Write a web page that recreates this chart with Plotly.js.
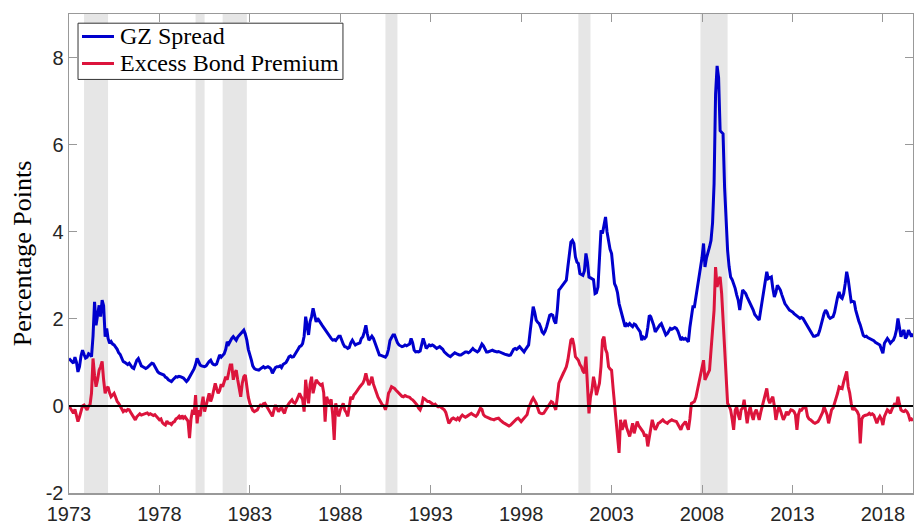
<!DOCTYPE html>
<html>
<head>
<meta charset="utf-8">
<script src="https://cdn.plot.ly/plotly-3.0.1.min.js"></script>
<style>html,body{margin:0;padding:0;background:#fff;}#chart{width:914px;height:525px;}</style>
</head>
<body>
<div id="chart"></div>
<script>
// Monthly data, Jan 1973 - Sep 2019
const startYear = 1973;
const gzSpread = [
1.09,1.05,1.00,0.98,1.12,1.00,0.78,0.90,1.15,1.28,1.18,1.10,
1.12,1.20,1.18,1.13,1.60,2.39,1.85,2.10,2.31,2.05,2.43,2.30,
1.59,1.78,1.55,1.44,1.48,1.42,1.40,1.35,1.30,1.22,1.18,1.10,
1.02,1.00,0.98,0.95,0.98,0.92,0.88,0.86,0.95,1.05,1.09,0.98,
0.92,0.90,0.88,0.86,0.88,0.92,0.96,0.98,0.97,0.90,0.82,0.78,
0.75,0.73,0.72,0.71,0.66,0.64,0.60,0.57,0.56,0.60,0.64,0.67,
0.66,0.68,0.67,0.65,0.64,0.60,0.56,0.60,0.66,0.72,0.79,0.85,
0.95,1.09,1.02,0.94,0.92,0.90,0.90,0.92,0.98,1.02,1.05,0.98,
0.95,0.94,0.96,1.10,1.17,1.12,1.15,1.20,1.30,1.47,1.42,1.50,
1.55,1.59,1.55,1.51,1.58,1.62,1.66,1.70,1.74,1.65,1.51,1.30,
1.20,1.05,0.92,0.86,0.84,0.82,0.82,0.85,0.88,0.90,0.87,0.88,
0.90,0.88,0.85,0.75,0.82,0.88,0.90,0.90,0.92,0.88,0.95,0.98,
1.00,1.06,1.13,1.15,1.12,1.13,1.18,1.22,1.30,1.36,1.38,1.43,
1.60,2.05,1.80,1.63,1.93,2.05,2.24,2.05,1.93,2.01,1.95,1.88,
1.85,1.80,1.75,1.70,1.66,1.60,1.55,1.51,1.52,1.50,1.55,1.60,
1.60,1.50,1.42,1.36,1.35,1.32,1.34,1.45,1.51,1.45,1.40,1.42,
1.43,1.45,1.55,1.59,1.70,1.85,1.65,1.51,1.55,1.60,1.55,1.45,
1.40,1.28,1.17,1.16,1.15,1.13,1.12,1.17,1.30,1.50,1.59,1.63,
1.63,1.52,1.45,1.40,1.38,1.36,1.37,1.40,1.38,1.40,1.42,1.55,
1.45,1.28,1.24,1.25,1.24,1.26,1.40,1.55,1.44,1.32,1.36,1.40,
1.38,1.40,1.38,1.35,1.32,1.34,1.36,1.33,1.30,1.24,1.20,1.18,
1.15,1.13,1.16,1.20,1.22,1.20,1.18,1.17,1.17,1.20,1.23,1.24,
1.24,1.22,1.24,1.28,1.32,1.28,1.25,1.24,1.27,1.33,1.42,1.38,
1.30,1.24,1.24,1.26,1.27,1.28,1.26,1.25,1.24,1.25,1.23,1.22,
1.21,1.19,1.18,1.17,1.16,1.17,1.22,1.30,1.32,1.30,1.33,1.36,
1.32,1.28,1.24,1.30,1.36,1.40,1.70,2.05,2.28,2.15,1.97,1.92,
1.89,1.80,1.70,1.66,1.72,1.82,1.95,2.08,2.10,2.08,1.95,1.89,
2.20,2.66,2.70,2.75,2.81,2.85,2.89,3.19,3.45,3.76,3.80,3.73,
3.42,3.30,3.27,3.04,3.02,3.00,3.10,3.50,3.30,2.96,2.94,2.92,
2.90,2.58,2.60,2.73,3.40,4.03,3.96,4.15,4.34,4.00,3.80,3.60,
3.50,3.10,2.81,2.73,2.60,2.35,2.20,2.05,1.95,1.82,1.88,1.85,
1.89,1.85,1.82,1.88,1.86,1.80,1.74,1.70,1.51,1.58,1.55,1.59,
1.80,2.08,2.05,1.97,1.85,1.70,1.75,1.82,1.86,1.89,1.80,1.70,
1.63,1.66,1.72,1.78,1.76,1.78,1.80,1.78,1.72,1.62,1.51,1.56,
1.53,1.55,1.50,1.47,1.80,2.12,2.28,2.28,2.50,2.81,3.00,3.19,
3.40,3.73,3.19,3.40,3.50,3.65,3.80,4.20,5.10,7.16,7.81,7.54,
6.32,6.28,6.25,5.02,4.20,3.57,3.20,2.96,2.90,2.81,2.70,2.55,
2.43,2.20,2.40,2.66,2.62,2.58,2.50,2.43,2.35,2.28,2.20,2.10,
2.05,2.00,1.97,2.20,2.40,2.66,2.90,3.08,2.92,2.95,2.96,2.70,
2.50,2.60,2.77,2.72,2.66,2.55,2.43,2.35,2.30,2.24,2.20,2.18,
2.16,2.12,2.10,2.08,2.04,2.01,2.03,2.01,1.95,1.86,1.80,1.74,
1.70,1.65,1.60,1.60,1.62,1.63,1.72,1.86,1.98,2.12,2.20,2.15,
2.05,2.01,2.03,2.05,2.15,2.35,2.50,2.62,2.50,2.47,2.58,2.80,
3.08,2.90,2.66,2.39,2.40,2.39,2.20,2.05,1.95,1.86,1.72,1.62,
1.59,1.60,1.57,1.55,1.53,1.51,1.50,1.46,1.44,1.42,1.40,1.30,
1.21,1.44,1.50,1.55,1.50,1.44,1.48,1.51,1.60,1.74,2.01,1.75,
1.59,1.70,1.74,1.55,1.60,1.74,1.65,1.59,1.66
];
const excessBondPremium = [
0.00,-0.05,-0.12,-0.17,-0.08,-0.20,-0.36,-0.25,-0.09,0.00,0.02,-0.05,
-0.09,0.00,0.02,0.30,1.09,0.70,0.44,0.60,0.82,0.90,1.02,0.60,
0.29,0.40,0.44,0.30,0.21,0.25,0.29,0.20,0.10,0.06,0.00,-0.08,
-0.13,-0.10,-0.12,-0.08,-0.09,-0.15,-0.20,-0.28,-0.32,-0.25,-0.21,-0.18,
-0.21,-0.19,-0.18,-0.17,-0.16,-0.20,-0.18,-0.21,-0.22,-0.20,-0.25,-0.28,
-0.32,-0.30,-0.38,-0.42,-0.44,-0.35,-0.40,-0.40,-0.43,-0.38,-0.36,-0.30,
-0.28,-0.24,-0.30,-0.22,-0.28,-0.25,-0.30,-0.35,-0.74,-0.30,-0.09,-0.20,
0.25,-0.40,-0.10,-0.24,0.00,0.21,-0.13,0.05,0.15,0.29,0.10,0.20,
0.35,0.52,0.40,0.29,0.35,0.50,0.44,0.55,0.67,0.60,0.80,0.94,
0.94,0.60,0.75,0.82,0.60,0.40,0.21,0.52,0.67,0.71,0.44,0.20,
0.06,-0.05,-0.10,-0.13,-0.10,-0.09,-0.02,0.02,0.00,0.05,0.06,0.00,
-0.05,-0.13,-0.18,-0.24,-0.10,0.02,-0.05,-0.13,-0.08,-0.02,-0.12,-0.17,
-0.05,0.02,0.06,0.10,0.14,0.08,0.06,0.12,0.20,0.29,0.21,0.15,
-0.13,0.60,0.30,0.06,0.50,0.67,0.29,0.45,0.60,0.55,0.52,0.48,
0.50,0.30,-0.36,0.21,0.10,0.06,0.15,-0.20,-0.78,0.06,-0.10,-0.24,
-0.10,0.00,0.06,-0.10,-0.15,-0.24,0.00,0.21,0.15,0.25,0.29,0.35,
0.40,0.44,0.48,0.52,0.60,0.75,0.60,0.48,0.55,0.67,0.50,0.37,
0.30,0.20,0.14,0.08,0.02,0.00,-0.09,0.05,0.29,0.35,0.44,0.42,
0.40,0.36,0.33,0.30,0.25,0.22,0.21,0.24,0.22,0.21,0.20,0.16,
0.14,0.10,0.06,0.02,-0.05,-0.09,0.00,0.18,0.16,0.12,0.10,0.10,
0.08,0.05,0.02,0.04,0.00,-0.02,-0.01,-0.04,-0.05,-0.09,-0.15,-0.30,
-0.40,-0.35,-0.30,-0.28,-0.30,-0.32,-0.28,-0.32,-0.25,-0.21,-0.24,-0.26,
-0.24,-0.22,-0.20,-0.17,-0.20,-0.22,-0.24,-0.20,-0.12,-0.05,-0.08,-0.20,
-0.24,-0.26,-0.27,-0.28,-0.30,-0.31,-0.32,-0.30,-0.29,-0.28,-0.32,-0.36,
-0.38,-0.40,-0.42,-0.44,-0.46,-0.44,-0.40,-0.36,-0.32,-0.30,-0.28,-0.32,
-0.36,-0.32,-0.28,-0.24,-0.20,-0.05,0.06,0.12,0.18,0.12,0.06,-0.05,
-0.15,-0.17,-0.18,-0.17,-0.12,-0.05,0.00,0.06,0.10,0.08,0.00,-0.09,
0.20,0.52,0.60,0.70,0.75,0.82,0.90,1.05,1.30,1.51,1.55,1.40,
1.13,1.08,1.05,0.95,0.90,0.80,0.75,1.13,0.60,-0.17,0.20,0.37,
0.67,0.50,0.25,0.40,0.52,0.90,1.51,1.59,1.30,1.21,0.90,0.85,
0.82,0.40,0.06,-0.24,-0.55,-1.08,-0.32,-0.55,-0.45,-0.32,-0.50,-0.62,
-0.70,-0.55,-0.40,-0.63,-0.50,-0.36,-0.45,-0.50,-0.55,-0.60,-0.70,-0.65,
-0.93,-0.70,-0.55,-0.32,-0.45,-0.55,-0.48,-0.40,-0.38,-0.35,-0.32,-0.36,
-0.38,-0.40,-0.36,-0.33,-0.32,-0.34,-0.35,-0.36,-0.42,-0.48,-0.55,-0.45,
-0.40,-0.36,-0.45,-0.55,-0.30,0.06,0.08,0.10,0.20,0.37,0.50,0.67,
0.85,1.05,0.60,0.70,0.75,0.82,1.21,1.70,2.20,3.19,2.73,2.89,
2.96,2.58,2.00,1.21,0.60,0.06,0.00,-0.09,-0.30,-0.55,-0.10,-0.02,
-0.20,-0.32,-0.09,-0.05,0.14,-0.10,-0.40,-0.15,-0.02,-0.20,-0.32,-0.15,
-0.09,-0.20,-0.32,-0.15,-0.02,0.10,0.29,0.40,0.15,0.06,0.15,0.21,
0.00,-0.32,-0.15,-0.02,-0.10,-0.20,-0.32,-0.25,-0.13,-0.21,-0.15,-0.09,
-0.10,-0.13,-0.20,-0.55,-0.20,-0.09,-0.10,-0.05,-0.04,-0.05,-0.24,-0.30,
-0.32,-0.36,-0.38,-0.40,-0.38,-0.36,-0.30,-0.24,-0.15,-0.02,-0.13,-0.20,
-0.40,-0.20,-0.09,-0.05,0.06,0.15,0.29,0.44,0.42,0.40,0.55,0.65,
0.79,0.44,0.30,0.06,-0.09,-0.05,-0.09,-0.13,-0.21,-0.86,-0.30,-0.24,
-0.22,-0.21,-0.20,-0.17,-0.20,-0.18,-0.21,-0.30,-0.40,-0.30,-0.24,-0.30,
-0.44,-0.24,-0.15,-0.09,-0.12,-0.17,-0.08,0.00,0.06,-0.02,0.21,0.05,
-0.09,-0.12,-0.13,-0.10,-0.13,-0.20,-0.32,-0.30,-0.34
];
// NBER recessions (start, end)
const recessionStarts = ["1973-11-01","1980-01-01","1981-07-01","1990-07-01","2001-03-01","2007-12-01"];
const recessionEnds   = ["1975-03-01","1980-07-01","1982-11-01","1991-03-01","2001-11-01","2009-06-01"];
const tickYears = ["1973","1978","1983","1988","1993","1998","2003","2008","2013","2018"];
const yTicks = [-2,0,2,4,6,8];
const seriesNames = ["GZ Spread","Excess Bond Premium"];
const seriesColors = ["#0000cd","#dc143c"];

function monthDate(i){
  const y = startYear + Math.floor(i/12);
  const m = (i % 12) + 1;
  return y + "-" + (m < 10 ? "0" + m : m) + "-01";
}
const datesGZ = gzSpread.map((_, i) => monthDate(i));
const datesEBP = excessBondPremium.map((_, i) => monthDate(i));

const traces = [
  {x: datesGZ, y: gzSpread, type: "scatter", mode: "lines", name: seriesNames[0],
   line: {color: seriesColors[0], width: 3}},
  {x: datesEBP, y: excessBondPremium, type: "scatter", mode: "lines", name: seriesNames[1],
   line: {color: seriesColors[1], width: 3}}
];

const shapes = recessionStarts.map((s, i) => ({
  type: "rect", xref: "x", yref: "paper", x0: s, x1: recessionEnds[i], y0: 0, y1: 1,
  fillcolor: "#e6e6e6", line: {width: 0}, layer: "below"
}));
shapes.push({type: "line", xref: "paper", yref: "y", x0: 0, x1: 1, y0: 0, y1: 0,
  line: {color: "#000000", width: 2}, layer: "above"});

// legend box drawn by hand (paper coordinates)
const legendBox = {x0: 0.0107, x1: 0.3246, y0: 0.8634, y1: 0.9808};
const legendRowsY = [0.9531, 0.8968];
shapes.push({type: "rect", xref: "paper", yref: "paper",
  x0: legendBox.x0, x1: legendBox.x1, y0: legendBox.y0, y1: legendBox.y1,
  fillcolor: "#ffffff", line: {color: "#333333", width: 1}, layer: "above"});
const annotations = [];
const serif = "Liberation Serif, Times New Roman, serif";
seriesNames.forEach((n, i) => {
  shapes.push({type: "line", xref: "paper", yref: "paper", x0: 0.0154, x1: 0.0533,
    y0: legendRowsY[i], y1: legendRowsY[i], line: {color: seriesColors[i], width: 3}, layer: "above"});
  annotations.push({xref: "paper", yref: "paper", x: 0.0581, y: legendRowsY[i],
    xanchor: "left", yanchor: "middle", showarrow: false, text: n,
    font: {family: serif, size: 24, color: "#000000"}});
});

const tickFont = {family: "Liberation Sans, Arial, sans-serif", size: 20, color: "#262626"};

const layout = {
  width: 914, height: 525,
  margin: {l: 69, r: 1, t: 14, b: 32, pad: 0},
  paper_bgcolor: "#ffffff", plot_bgcolor: "#ffffff",
  showlegend: false,
  xaxis: {
    type: "date", range: [startYear + "-01-01", "2019-09-01"],
    tickvals: tickYears.map(y => y + "-01-01"), ticktext: tickYears,
    ticks: "inside", ticklen: 8, tickcolor: "#999999", tickwidth: 1,
    showline: true, linecolor: "#999999", linewidth: 1.5, mirror: "ticks",
    showgrid: false, zeroline: false, tickfont: tickFont, ticklabelstandoff: 2
  },
  yaxis: {
    range: [-2, 9], tickvals: yTicks, ticktext: yTicks.map(String),
    ticks: "inside", ticklen: 8, tickcolor: "#999999", tickwidth: 1,
    showline: true, linecolor: "#999999", linewidth: 1.5, mirror: "ticks",
    showgrid: false, zeroline: false, tickfont: tickFont,
    title: {text: "Percentage Points", font: {family: serif, size: 26, color: "#000000"}, standoff: 6}
  },
  shapes: shapes,
  annotations: annotations
};

Plotly.newPlot("chart", traces, layout, {displayModeBar: false, staticPlot: true});
</script>
</body>
</html>
